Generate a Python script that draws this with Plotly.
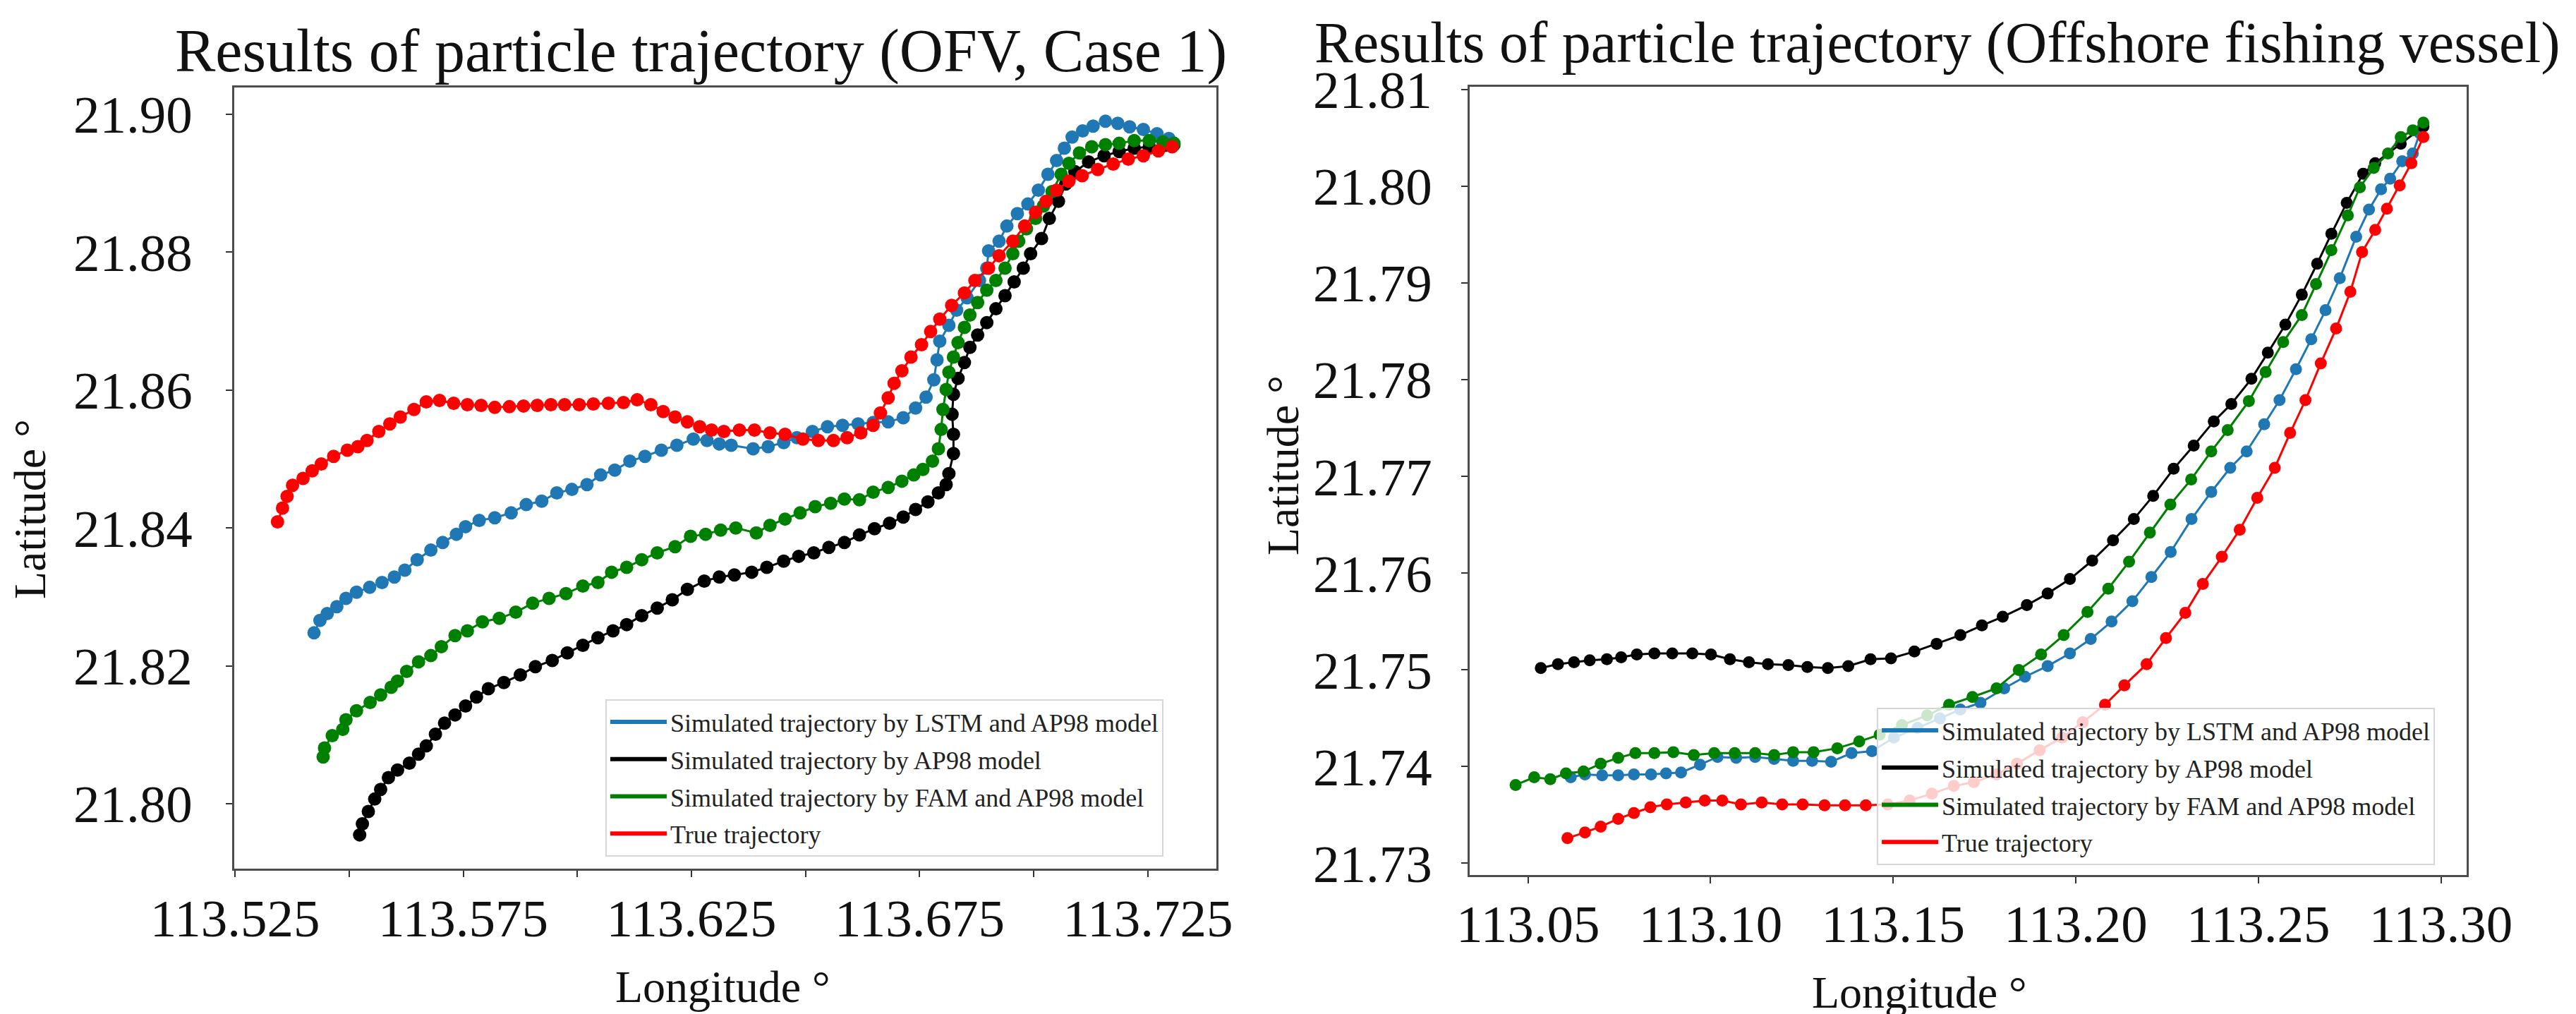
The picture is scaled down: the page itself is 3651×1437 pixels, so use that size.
import plotly.graph_objects as go

# ---- Case 1 (OFV): (longitude, latitude) ----
case1_lstm = [
    (113.5423, 21.8248), (113.5436, 21.8266), (113.5452, 21.8276), (113.5473, 21.8286),
    (113.5493, 21.8298), (113.5516, 21.8307), (113.5545, 21.8314), (113.5572, 21.8321),
    (113.5599, 21.8329), (113.5622, 21.8339), (113.5649, 21.8354), (113.5679, 21.8368),
    (113.5705, 21.8379), (113.5735, 21.8391), (113.5755, 21.8402), (113.5785, 21.8411),
    (113.5819, 21.8415), (113.5855, 21.8422), (113.5888, 21.8434), (113.5922, 21.8439),
    (113.5955, 21.8451), (113.5988, 21.8456), (113.6021, 21.8463), (113.6051, 21.8477),
    (113.6082, 21.8484), (113.6115, 21.8497), (113.6148, 21.8504), (113.6184, 21.8513),
    (113.6218, 21.8520), (113.6254, 21.8529), (113.6284, 21.8527), (113.6311, 21.8522),
    (113.6337, 21.8520), (113.6385, 21.8515), (113.6418, 21.8518), (113.6452, 21.8524),
    (113.6481, 21.8531), (113.6515, 21.8540), (113.6548, 21.8547), (113.6581, 21.8549),
    (113.6615, 21.8551), (113.6648, 21.8553), (113.6681, 21.8554), (113.6714, 21.8560),
    (113.6741, 21.8574), (113.6764, 21.8590), (113.6781, 21.8615), (113.6788, 21.8644),
    (113.6794, 21.8671), (113.6814, 21.8694), (113.6831, 21.8716), (113.6854, 21.8734),
    (113.6881, 21.8759), (113.6897, 21.8777), (113.6901, 21.8802), (113.6924, 21.8816),
    (113.6941, 21.8838), (113.6964, 21.8856), (113.6987, 21.8870), (113.7010, 21.8890),
    (113.7031, 21.8913), (113.7050, 21.8933), (113.7067, 21.8951), (113.7084, 21.8967),
    (113.7107, 21.8976), (113.7130, 21.8983), (113.7157, 21.8990), (113.7184, 21.8987),
    (113.7210, 21.8982), (113.7240, 21.8978), (113.7270, 21.8972), (113.7296, 21.8965),
    (113.7307, 21.8958),
]

case1_ap98 = [
    (113.5523, 21.7955), (113.5529, 21.7971), (113.5542, 21.7989), (113.5556, 21.8007),
    (113.5569, 21.8021), (113.5586, 21.8038), (113.5606, 21.8049), (113.5632, 21.8059),
    (113.5652, 21.8072), (113.5669, 21.8084), (113.5689, 21.8101), (113.5709, 21.8117),
    (113.5732, 21.8129), (113.5755, 21.8142), (113.5779, 21.8155), (113.5805, 21.8167),
    (113.5839, 21.8176), (113.5875, 21.8187), (113.5908, 21.8199), (113.5945, 21.8208),
    (113.5978, 21.8219), (113.6012, 21.8230), (113.6045, 21.8241), (113.6078, 21.8251),
    (113.6108, 21.8260), (113.6141, 21.8273), (113.6175, 21.8284), (113.6208, 21.8296),
    (113.6241, 21.8311), (113.6278, 21.8323), (113.6311, 21.8329), (113.6344, 21.8332),
    (113.6382, 21.8336), (113.6415, 21.8343), (113.6452, 21.8352), (113.6485, 21.8359),
    (113.6518, 21.8364), (113.6551, 21.8372), (113.6585, 21.8379), (113.6618, 21.8390),
    (113.6651, 21.8399), (113.6684, 21.8407), (113.6714, 21.8416), (113.6741, 21.8427),
    (113.6768, 21.8438), (113.6791, 21.8451), (113.6808, 21.8463), (113.6814, 21.8479),
    (113.6824, 21.8508), (113.6824, 21.8536), (113.6821, 21.8565), (113.6824, 21.8594),
    (113.6834, 21.8617), (113.6848, 21.8640), (113.6860, 21.8662), (113.6877, 21.8680),
    (113.6897, 21.8698), (113.6917, 21.8718), (113.6937, 21.8737), (113.6957, 21.8757),
    (113.6977, 21.8777), (113.6993, 21.8798), (113.7017, 21.8820), (113.7034, 21.8849),
    (113.7054, 21.8874), (113.7070, 21.8899), (113.7090, 21.8917), (113.7120, 21.8931),
    (113.7154, 21.8940), (113.7187, 21.8946), (113.7220, 21.8951), (113.7253, 21.8953),
    (113.7287, 21.8955), (113.7307, 21.8956),
]

case1_fam = [
    (113.5443, 21.8068), (113.5446, 21.8081), (113.5463, 21.8099), (113.5486, 21.8108),
    (113.5493, 21.8122), (113.5516, 21.8135), (113.5546, 21.8147), (113.5569, 21.8158),
    (113.5592, 21.8169), (113.5606, 21.8178), (113.5626, 21.8192), (113.5652, 21.8206),
    (113.5679, 21.8215), (113.5702, 21.8228), (113.5732, 21.8244), (113.5759, 21.8251),
    (113.5792, 21.8264), (113.5829, 21.8269), (113.5865, 21.8278), (113.5902, 21.8291),
    (113.5938, 21.8298), (113.5975, 21.8305), (113.6012, 21.8316), (113.6045, 21.8321),
    (113.6075, 21.8336), (113.6108, 21.8343), (113.6141, 21.8354), (113.6175, 21.8364),
    (113.6214, 21.8373), (113.6248, 21.8388), (113.6281, 21.8391), (113.6314, 21.8397),
    (113.6347, 21.8400), (113.6392, 21.8393), (113.6422, 21.8404), (113.6455, 21.8413),
    (113.6488, 21.8422), (113.6521, 21.8431), (113.6555, 21.8436), (113.6585, 21.8442),
    (113.6618, 21.8441), (113.6648, 21.8452), (113.6681, 21.8459), (113.6711, 21.8468),
    (113.6737, 21.8477), (113.6757, 21.8485), (113.6778, 21.8497), (113.6791, 21.8515),
    (113.6797, 21.8543), (113.6801, 21.8572), (113.6808, 21.8601), (113.6814, 21.8626),
    (113.6824, 21.8648), (113.6834, 21.8669), (113.6848, 21.8691), (113.6860, 21.8709),
    (113.6877, 21.8727), (113.6897, 21.8745), (113.6917, 21.8759), (113.6937, 21.8777),
    (113.6954, 21.8798), (113.6967, 21.8816), (113.6984, 21.8834), (113.7004, 21.8849),
    (113.7021, 21.8867), (113.7040, 21.8888), (113.7060, 21.8913), (113.7077, 21.8929),
    (113.7100, 21.8944), (113.7127, 21.8953), (113.7157, 21.8956), (113.7187, 21.8958),
    (113.7220, 21.8962), (113.7253, 21.8962), (113.7283, 21.8960), (113.7307, 21.8958),
]

case1_true = [
    (113.5343, 21.8409), (113.5354, 21.8429), (113.5364, 21.8446), (113.5376, 21.8462),
    (113.5399, 21.8472), (113.5419, 21.8483), (113.5439, 21.8493), (113.5466, 21.8504),
    (113.5496, 21.8513), (113.5519, 21.8518), (113.5539, 21.8527), (113.5565, 21.8540),
    (113.5589, 21.8551), (113.5612, 21.8561), (113.5642, 21.8572), (113.5669, 21.8583),
    (113.5698, 21.8585), (113.5729, 21.8581), (113.5759, 21.8579), (113.5789, 21.8578),
    (113.5819, 21.8575), (113.5851, 21.8576), (113.5882, 21.8577), (113.5912, 21.8578),
    (113.5942, 21.8579), (113.5972, 21.8579), (113.6004, 21.8579), (113.6035, 21.8580),
    (113.6068, 21.8581), (113.6101, 21.8582), (113.6131, 21.8586), (113.6161, 21.8579),
    (113.6188, 21.8569), (113.6214, 21.8561), (113.6241, 21.8554), (113.6268, 21.8547),
    (113.6294, 21.8542), (113.6321, 21.8540), (113.6355, 21.8542), (113.6388, 21.8542),
    (113.6422, 21.8538), (113.6455, 21.8536), (113.6494, 21.8529), (113.6528, 21.8527),
    (113.6561, 21.8527), (113.6591, 21.8531), (113.6621, 21.8538), (113.6648, 21.8549),
    (113.6664, 21.8567), (113.6681, 21.8589), (113.6694, 21.8610), (113.6711, 21.8628),
    (113.6731, 21.8648), (113.6754, 21.8666), (113.6774, 21.8685), (113.6794, 21.8703),
    (113.6820, 21.8723), (113.6848, 21.8741), (113.6871, 21.8759), (113.6901, 21.8777),
    (113.6924, 21.8795), (113.6954, 21.8816), (113.6980, 21.8838), (113.7004, 21.8858),
    (113.7027, 21.8874), (113.7050, 21.8890), (113.7077, 21.8903), (113.7106, 21.8911),
    (113.7140, 21.8920), (113.7174, 21.8928), (113.7207, 21.8935), (113.7240, 21.8940),
    (113.7273, 21.8947), (113.7303, 21.8953),
]

# ---- Offshore fishing vessel: right panel ----
ofv_lstm = [
    (113.0617, 21.7389), (113.0656, 21.7392), (113.0703, 21.7391), (113.0747, 21.7391),
    (113.0790, 21.7392), (113.0837, 21.7392), (113.0878, 21.7393), (113.0919, 21.7394),
    (113.0971, 21.7402), (113.1019, 21.7410), (113.1070, 21.7409), (113.1122, 21.7410),
    (113.1174, 21.7408), (113.1226, 21.7406), (113.1278, 21.7406), (113.1330, 21.7405),
    (113.1386, 21.7414), (113.1442, 21.7416), (113.1502, 21.7430), (113.1567, 21.7440),
    (113.1628, 21.7450), (113.1684, 21.7459), (113.1739, 21.7466), (113.1804, 21.7481),
    (113.1861, 21.7493), (113.1923, 21.7504), (113.1984, 21.7517), (113.2041, 21.7532),
    (113.2098, 21.7550), (113.2155, 21.7571), (113.2207, 21.7596), (113.2260, 21.7622),
    (113.2317, 21.7656), (113.2371, 21.7684), (113.2423, 21.7709), (113.2468, 21.7726),
    (113.2516, 21.7754), (113.2558, 21.7779), (113.2603, 21.7811), (113.2645, 21.7842),
    (113.2684, 21.7872), (113.2723, 21.7905), (113.2768, 21.7948), (113.2803, 21.7976),
    (113.2836, 21.7997), (113.2861, 21.8008), (113.2894, 21.8026), (113.2923, 21.8034),
    (113.2942, 21.8055),
]

ofv_ap98 = [
    (113.0535, 21.7502), (113.0582, 21.7506), (113.0626, 21.7508), (113.0669, 21.7510),
    (113.0716, 21.7511), (113.0755, 21.7513), (113.0798, 21.7516), (113.0846, 21.7517),
    (113.0895, 21.7517), (113.0950, 21.7517), (113.1001, 21.7516), (113.1053, 21.7511),
    (113.1105, 21.7508), (113.1157, 21.7506), (113.1213, 21.7505), (113.1265, 21.7503),
    (113.1321, 21.7502), (113.1377, 21.7504), (113.1438, 21.7511), (113.1494, 21.7512),
    (113.1558, 21.7519), (113.1619, 21.7527), (113.1684, 21.7536), (113.1743, 21.7546),
    (113.1800, 21.7555), (113.1866, 21.7567), (113.1923, 21.7579), (113.1984, 21.7594),
    (113.2045, 21.7613), (113.2102, 21.7634), (113.2159, 21.7656), (113.2212, 21.7680),
    (113.2268, 21.7708), (113.2323, 21.7732), (113.2378, 21.7757), (113.2426, 21.7775),
    (113.2481, 21.7801), (113.2526, 21.7828), (113.2574, 21.7857), (113.2619, 21.7888),
    (113.2661, 21.7920), (113.2700, 21.7951), (113.2742, 21.7983), (113.2787, 21.8013),
    (113.2820, 21.8024), (113.2890, 21.8044), (113.2952, 21.8062),
]

ofv_fam = [
    (113.0466, 21.7381), (113.0517, 21.7389), (113.0561, 21.7387), (113.0604, 21.7393),
    (113.0652, 21.7395), (113.0699, 21.7403), (113.0747, 21.7409), (113.0794, 21.7414),
    (113.0846, 21.7414), (113.0898, 21.7415), (113.0954, 21.7412), (113.1010, 21.7414),
    (113.1066, 21.7414), (113.1122, 21.7414), (113.1174, 21.7412), (113.1226, 21.7415),
    (113.1282, 21.7415), (113.1347, 21.7419), (113.1407, 21.7426), (113.1463, 21.7433),
    (113.1524, 21.7443), (113.1593, 21.7453), (113.1653, 21.7464), (113.1717, 21.7472),
    (113.1783, 21.7481), (113.1844, 21.7500), (113.1905, 21.7516), (113.1967, 21.7536),
    (113.2032, 21.7560), (113.2089, 21.7584), (113.2146, 21.7612), (113.2203, 21.7642),
    (113.2259, 21.7671), (113.2316, 21.7697), (113.2371, 21.7726), (113.2416, 21.7748),
    (113.2474, 21.7778), (113.2520, 21.7808), (113.2568, 21.7839), (113.2619, 21.7867),
    (113.2658, 21.7899), (113.2700, 21.7934), (113.2745, 21.7970), (113.2778, 21.7999),
    (113.2816, 21.8019), (113.2855, 21.8034), (113.2890, 21.8051), (113.2923, 21.8058),
    (113.2952, 21.8066),
]

ofv_true = [
    (113.0608, 21.7326), (113.0656, 21.7332), (113.0699, 21.7338), (113.0747, 21.7346),
    (113.0790, 21.7352), (113.0835, 21.7358), (113.0880, 21.7361), (113.0932, 21.7363),
    (113.0984, 21.7365), (113.1032, 21.7365), (113.1083, 21.7361), (113.1140, 21.7363),
    (113.1196, 21.7361), (113.1252, 21.7361), (113.1312, 21.7360), (113.1368, 21.7360),
    (113.1425, 21.7360), (113.1485, 21.7361), (113.1545, 21.7365), (113.1606, 21.7372),
    (113.1666, 21.7380), (113.1721, 21.7384), (113.1783, 21.7392), (113.1839, 21.7403),
    (113.1901, 21.7417), (113.1962, 21.7430), (113.2019, 21.7446), (113.2080, 21.7464),
    (113.2133, 21.7484), (113.2194, 21.7506), (113.2247, 21.7533), (113.2300, 21.7559),
    (113.2348, 21.7589), (113.2400, 21.7617), (113.2449, 21.7645), (113.2497, 21.7678),
    (113.2545, 21.7709), (113.2587, 21.7745), (113.2629, 21.7779), (113.2671, 21.7817),
    (113.2713, 21.7853), (113.2752, 21.7891), (113.2784, 21.7932), (113.2820, 21.7955),
    (113.2852, 21.7977), (113.2887, 21.8001), (113.2919, 21.8024), (113.2952, 21.8051),
]

series_names = [
    "Simulated trajectory by LSTM and AP98 model",
    "Simulated trajectory by AP98 model",
    "Simulated trajectory by FAM and AP98 model",
    "True trajectory",
]
series_colors = ["#1f77b4", "#000000", "#008000", "#ff0000"]

left_x_ticks = [113.525, 113.55, 113.575, 113.6, 113.625, 113.65, 113.675, 113.70, 113.725]
left_x_text = ["113.525", "", "113.575", "", "113.625", "", "113.675", "", "113.725"]
left_y_ticks = [21.80, 21.82, 21.84, 21.86, 21.88, 21.90]
right_x_ticks = [113.05, 113.10, 113.15, 113.20, 113.25, 113.30]
right_y_ticks = [21.73, 21.74, 21.75, 21.76, 21.77, 21.78, 21.79, 21.80, 21.81]

FONT = "Liberation Serif, Times New Roman, serif"

fig = go.Figure()

panels = [
    ([case1_lstm, case1_ap98, case1_fam, case1_true], "x", "y", "legend", 19),
    ([ofv_lstm, ofv_ap98, ofv_fam, ofv_true], "x2", "y2", "legend2", 17),
]
for data, xa, ya, leg, msize in panels:
    for pts, name, color in zip(data, series_names, series_colors):
        lon = [p[0] for p in pts]
        lat = [p[1] for p in pts]
        fig.add_trace(go.Scatter(
            x=lon, y=lat, mode="lines", line=dict(color=color, width=3),
            xaxis=xa, yaxis=ya, showlegend=False, hoverinfo="skip",
        ))
        fig.add_trace(go.Scatter(
            x=lon, y=lat, mode="markers", marker=dict(color=color, size=msize),
            xaxis=xa, yaxis=ya, showlegend=False,
        ))
        # legend entry shows only a thick line, like the original
        fig.add_trace(go.Scatter(
            x=[None], y=[None], mode="lines", line=dict(color=color, width=6),
            name=name, xaxis=xa, yaxis=ya, legend=leg, legendgroup=leg + name,
        ))

axis_common = dict(
    showgrid=False, zeroline=False, showline=True, mirror=True, automargin=False,
    linecolor="#4d4d4d", linewidth=3,
    ticks="outside", ticklen=9, tickwidth=2, tickcolor="#333333",
    tickfont=dict(family=FONT, size=75, color="#111111"),
)

legend_common = dict(
    font=dict(family=FONT, size=36, color="#222222"),
    bordercolor="#d6d6d6", borderwidth=2,
    xanchor="left", yanchor="top", tracegroupgap=3, itemwidth=80,
)

fig.update_layout(
    width=3651, height=1437,
    margin=dict(l=0, r=0, t=0, b=0, pad=0),
    paper_bgcolor="white", plot_bgcolor="white",
    font=dict(family=FONT, color="#111111"),
    xaxis=dict(domain=[0.0887, 0.4700], range=[113.5248, 113.7400],
               tickvals=left_x_ticks, ticktext=left_x_text,
               anchor="y", ticklabelstandoff=-6, **axis_common),
    yaxis=dict(domain=[0.1489, 0.9193], range=[21.7906, 21.9039],
               tickvals=left_y_ticks, tickformat=".2f",
               anchor="x", ticklabelstandoff=32, **axis_common),
    xaxis2=dict(domain=[0.5683, 0.9553], range=[113.034, 113.307],
                tickvals=right_x_ticks, tickformat=".2f",
                anchor="y2", ticklabelstandoff=-7, **axis_common),
    yaxis2=dict(domain=[0.1427, 0.9200], range=[21.7288, 21.8103],
                tickvals=right_y_ticks, tickformat=".2f",
                anchor="x2", ticklabelstandoff=26, **axis_common),
    legend=dict(x=0.2328, y=0.3159, bgcolor="white", **legend_common),
    legend2=dict(x=0.7264, y=0.3076, bgcolor="rgba(255,255,255,0.8)", **legend_common),
)

texts = [
    ("Results of particle trajectory (OFV, Case 1)", 985, 64, 86, 0),
    ("Results of particle trajectory (Offshore fishing vessel)", 2738, 52, 82, 0),
    ("Longitude °", 1016, 1390, 64, 0),
    ("Longitude °", 2712, 1398, 64, 0),
    ("Latitude °", 34, 714, 64, -90),
    ("Latitude °", 1810, 652, 64, -90),
]
for text, px, py, size, angle in texts:
    fig.add_annotation(
        text=text, x=px / 3651, y=1 - py / 1437, xref="paper", yref="paper",
        xanchor="center", yanchor="middle", showarrow=False, textangle=angle,
        font=dict(family=FONT, size=size, color="#111111"),
    )

fig.write_html("out.html")
